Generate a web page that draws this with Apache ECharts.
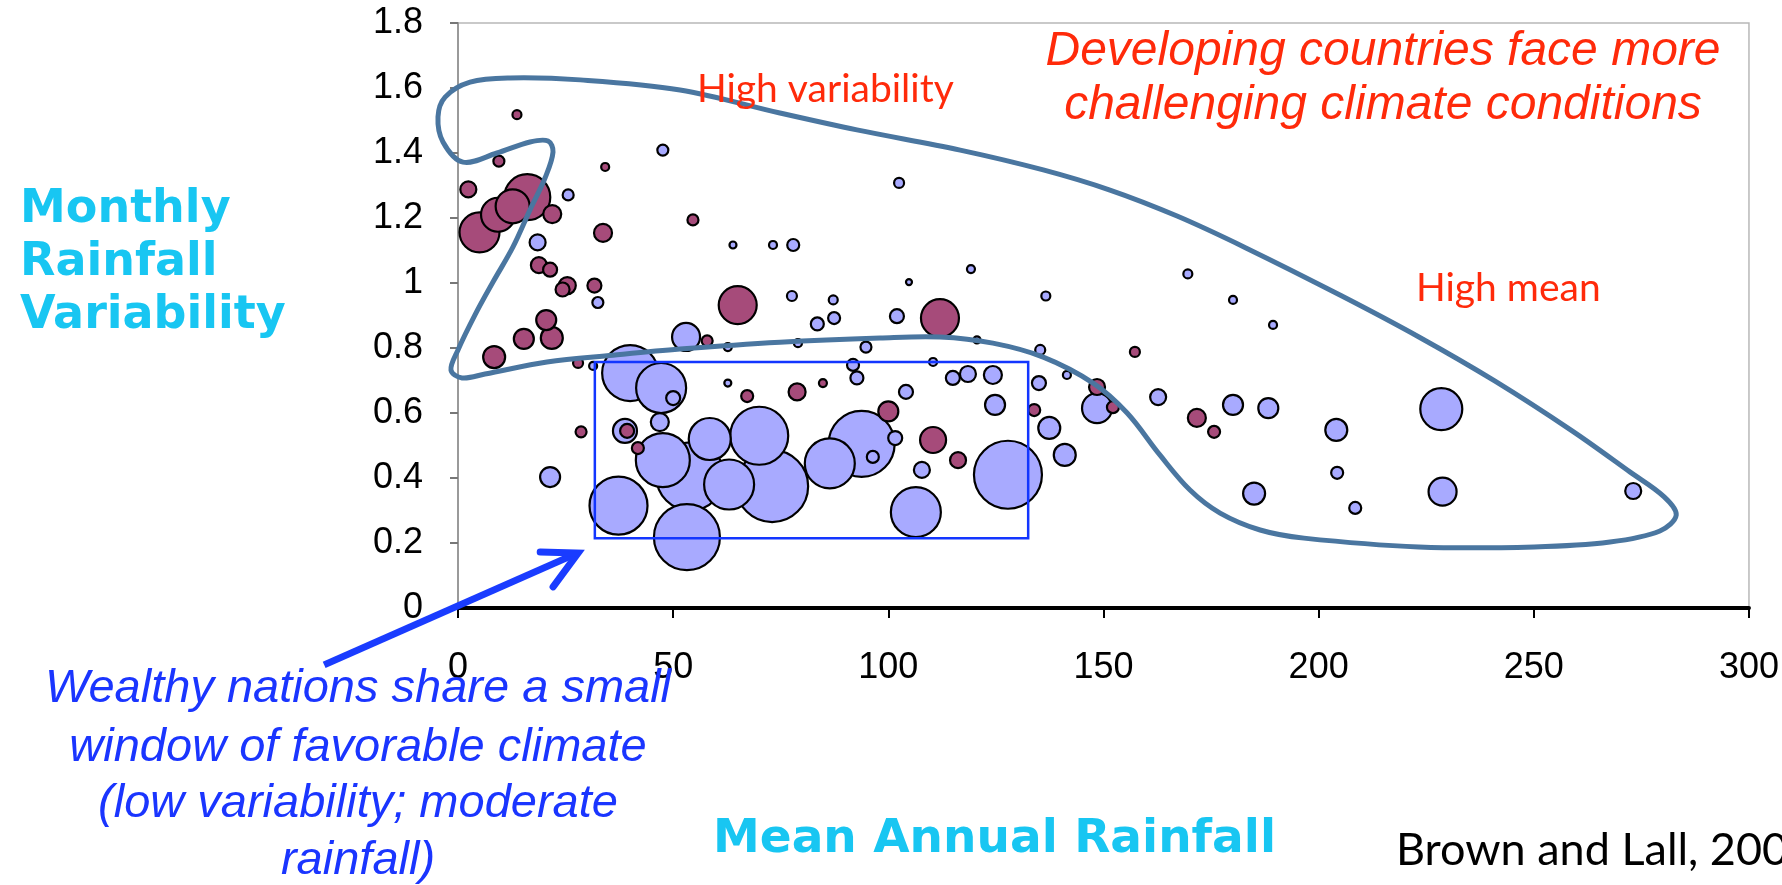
<!DOCTYPE html>
<html><head><meta charset="utf-8">
<script src="https://cdn.jsdelivr.net/npm/echarts/dist/echarts.min.js"></script>
<style>html,body{margin:0;padding:0;background:#fff}#c{width:1782px;height:885px}</style>
</head><body><div id="c"></div>
<script>
// ---- data (x = mean annual rainfall, y = monthly rainfall variability, w = bubble weight) ----
const xTicks = [0, 50, 100, 150, 200, 250, 300];
const yTicks = [0, 0.2, 0.4, 0.6, 0.8, 1, 1.2, 1.4, 1.6, 1.8];

const developingCountries = [
  [5.0,1.156,40],[9.3,1.21,34],[12.7,1.236,34],[16.1,1.264,46],[21.9,1.212,18],[2.4,1.288,16],
  [9.5,1.375,11],[13.7,1.518,9],[18.8,1.055,16],[21.4,1.041,14],[25.4,0.992,17],[24.3,0.98,14],
  [31.7,0.992,14],[33.7,1.154,18],[34.2,1.357,8],[54.6,1.194,11],[20.5,0.886,20],[21.8,0.831,22],
  [15.3,0.828,20],[8.4,0.772,22],[27.9,0.754,10],[28.6,0.542,11],[39.3,0.545,14],[41.8,0.492,12],
  [65.0,0.932,38],[57.9,0.822,11],[67.2,0.652,12],[78.8,0.665,17],[84.8,0.692,8],[112.0,0.892,38],
  [100.0,0.605,20],[110.4,0.517,26],[116.2,0.455,16],[133.9,0.609,12],[148.5,0.68,16],[152.2,0.618,12],
  [157.3,0.788,10],[171.7,0.585,18],[175.7,0.542,12]
];

const wealthyNations = [
  [18.5,1.125,16],[25.6,1.271,11],[32.5,0.94,11],[47.6,1.409,11],[63.9,1.117,7],[73.2,1.117,8],
  [77.9,1.117,12],[102.5,1.308,10],[119.2,1.043,8],[104.8,1.003,6],[77.6,0.96,10],[87.2,0.948,9],
  [87.4,0.892,12],[83.5,0.874,13],[102.0,0.898,14],[136.6,0.96,9],[169.6,1.028,9],[180.1,0.948,8],
  [120.6,0.825,7],[94.8,0.803,11],[79.0,0.815,8],[135.3,0.794,10],[110.4,0.757,8],[91.8,0.748,12],
  [92.7,0.708,13],[104.1,0.665,14],[115.0,0.708,14],[118.5,0.72,16],[124.3,0.717,18],[124.8,0.625,20],
  [141.5,0.717,8],[135.0,0.692,14],[148.5,0.615,30],[162.7,0.649,16],[180.1,0.625,20],[137.4,0.554,22],
  [141.0,0.471,22],[188.3,0.615,20],[204.1,0.548,22],[204.3,0.416,12],[228.5,0.612,42],[185.0,0.352,22],
  [228.8,0.358,28],[208.5,0.308,12],[273.1,0.36,16],[189.4,0.871,8],[21.4,0.403,20],[40.0,0.723,56],
  [47.2,0.677,50],[53.0,0.834,28],[50.0,0.646,14],[46.9,0.572,18],[38.8,0.545,24],[37.3,0.315,58],
  [53.2,0.218,66],[54.0,0.405,68],[47.6,0.455,54],[73.0,0.375,72],[70.0,0.53,58],[63.0,0.38,50],
  [58.5,0.52,42],[86.4,0.445,50],[93.8,0.505,66],[101.6,0.523,14],[96.4,0.465,12],[107.8,0.425,16],
  [106.4,0.295,50],[127.8,0.41,68],[62.7,0.803,8],[62.7,0.692,7],[31.4,0.745,8]
];

// annotation shapes, in data units
const developingEnvelope = [
  [1.16,1.372],[9.06,1.400],[16.73,1.434],[20.92,1.437],[22.08,1.403],[20.22,1.323],[16.73,1.225],
  [12.78,1.111],[8.13,1.003],[3.95,0.902],[0.0,0.794],[-1.63,0.732],[0.93,0.708],[6.27,0.720],
  [20.68,0.757],[36.02,0.778],[51.59,0.797],[74.83,0.818],[98.07,0.831],[112.0,0.834],[124.3,0.815],
  [136.0,0.772],[147.6,0.692],[155.5,0.600],[163.1,0.471],[170.1,0.363],[177.1,0.292],[186.4,0.240],
  [196.6,0.215],[223.3,0.188],[250.1,0.188],[267.7,0.203],[279.3,0.237],[283.1,0.286],[280.3,0.342],
  [272.4,0.418],[258.9,0.545],[241.0,0.698],[223.3,0.834],[205.4,0.960],[183.1,1.108],[167.1,1.206],
  [151.5,1.286],[136.0,1.348],[116.7,1.409],[92.7,1.471],[74.8,1.523],[51.6,1.594],[28.4,1.625],
  [12.1,1.631],[2.8,1.618],[-3.0,1.572],[-4.65,1.511],[-3.49,1.434]
];
const favorableWindow = [[31.8,0.215],[132.5,0.757]];
const arrowShaft = [[-31.1,-0.175],[27.6,0.168]];
const arrowHead = [[19.1,0.172],[27.9,0.169],[22.1,0.065]];

const bubbleScale = 1;
const bySizeDesc = a => a.slice().sort((p,q)=>q[2]-p[2]);

const chart = echarts.init(document.getElementById('c'));
const labelFont = 'Liberation Sans, Arial, sans-serif';

chart.setOption({
  animation: false,
  backgroundColor: '#fff',
  grid: {left: 458, right: 33, top: 23, bottom: 277, show: true, borderColor: '#b8b8b8', borderWidth: 1.5},
  xAxis: {
    type: 'value', min: xTicks[0], max: xTicks[xTicks.length-1], interval: xTicks[1]-xTicks[0],
    axisLine: {show: true, lineStyle: {color: '#000', width: 4}},
    axisTick: {show: true, length: 10, lineStyle: {color: '#000', width: 2}},
    axisLabel: {fontSize: 36, fontFamily: labelFont, color: '#000', margin: 42},
    splitLine: {show: false}
  },
  yAxis: {
    type: 'value', min: yTicks[0], max: yTicks[yTicks.length-1], interval: 0.2,
    axisLine: {show: true, lineStyle: {color: '#9a9a9a', width: 2}},
    axisTick: {show: true, length: 8, lineStyle: {color: '#777', width: 2}},
    axisLabel: {fontSize: 36, fontFamily: labelFont, color: '#000', margin: 35},
    splitLine: {show: false}
  },
  series: [
    {
      name: 'Wealthy', type: 'scatter', z: 2,
      data: bySizeDesc(wealthyNations),
      symbol: 'circle', symbolSize: v => v[2]*bubbleScale,
      itemStyle: {color: '#A8AAFF', borderColor: '#000', borderWidth: 2.2, opacity: 1}
    },
    {
      name: 'Developing', type: 'scatter', z: 3,
      data: bySizeDesc(developingCountries),
      symbol: 'circle', symbolSize: v => v[2]*bubbleScale,
      itemStyle: {color: '#A64B7A', borderColor: '#000', borderWidth: 2.2, opacity: 1}
    },
    {
      type: 'custom', z: 6, silent: true, clip: false, data: [[0,0]],
      renderItem: (params, api) => ({
        type: 'polygon',
        shape: {points: developingEnvelope.map(p => api.coord(p)), smooth: 0.35},
        style: {fill: 'none', stroke: '#4A76A0', lineWidth: 5}
      })
    },
    {
      type: 'custom', z: 7, silent: true, clip: false, data: [[0,0]],
      renderItem: (params, api) => {
        const a = api.coord(favorableWindow[0]), b = api.coord(favorableWindow[1]);
        return {type: 'rect', shape: {x: a[0], y: b[1], width: b[0]-a[0], height: a[1]-b[1]},
          style: {fill: 'none', stroke: '#1336FF', lineWidth: 2.5}};
      }
    },
    {
      type: 'custom', z: 8, silent: true, clip: false, data: [[0,0]],
      renderItem: (params, api) => ({
        type: 'group', children: [
          {type: 'polyline', shape: {points: arrowShaft.map(p => api.coord(p))},
           style: {stroke: '#1A3CFF', lineWidth: 7, lineCap: 'butt', fill: 'none'}},
          {type: 'polyline', shape: {points: arrowHead.map(p => api.coord(p))},
           style: {stroke: '#1A3CFF', lineWidth: 7, lineCap: 'round', lineJoin: 'miter', fill: 'none'}}
        ]
      })
    }
  ],
  graphic: [
    {type:'text', z:10, style:{x:20, y:210, text:'Monthly', font:'bold 46px "DejaVu Sans"', fill:'#18C6F2', textVerticalAlign:'middle'}},
    {type:'text', z:10, style:{x:20, y:263, text:'Rainfall', font:'bold 46px "DejaVu Sans"', fill:'#18C6F2', textVerticalAlign:'middle'}},
    {type:'text', z:10, style:{x:20, y:316, text:'Variability', font:'bold 46px "DejaVu Sans"', fill:'#18C6F2', textVerticalAlign:'middle'}},
    {type:'text', z:10, style:{x:713, y:840, text:'Mean Annual Rainfall', font:'bold 47px "DejaVu Sans"', fill:'#18C6F2', textVerticalAlign:'middle'}},
    {type:'text', z:10, style:{x:1396, y:850, text:'Brown and Lall, 2008', font:'45px Lato', fill:'#000', textVerticalAlign:'middle'}},
    {type:'text', z:10, style:{x:1383, y:52, text:'Developing countries face more', font:'italic 48px "Liberation Sans"', fill:'#FF2A0A', textAlign:'center', textVerticalAlign:'middle'}},
    {type:'text', z:10, style:{x:1383, y:106, text:'challenging climate conditions', font:'italic 48px "Liberation Sans"', fill:'#FF2A0A', textAlign:'center', textVerticalAlign:'middle'}},
    {type:'text', z:10, style:{x:697, y:89, text:'High variability', font:'39px Lato', fill:'#FF2A0A', textVerticalAlign:'middle'}},
    {type:'text', z:10, style:{x:1416, y:288, text:'High mean', font:'39px Lato', fill:'#FF2A0A', textVerticalAlign:'middle'}},
    {type:'text', z:10, style:{x:358, y:689, text:'Wealthy nations share a small', font:'italic 47px "Liberation Sans"', fill:'#1A35FF', textAlign:'center', textVerticalAlign:'middle'}},
    {type:'text', z:10, style:{x:358, y:748, text:'window of favorable climate', font:'italic 47px "Liberation Sans"', fill:'#1A35FF', textAlign:'center', textVerticalAlign:'middle'}},
    {type:'text', z:10, style:{x:358, y:804, text:'(low variability; moderate', font:'italic 47px "Liberation Sans"', fill:'#1A35FF', textAlign:'center', textVerticalAlign:'middle'}},
    {type:'text', z:10, style:{x:358, y:861, text:'rainfall)', font:'italic 47px "Liberation Sans"', fill:'#1A35FF', textAlign:'center', textVerticalAlign:'middle'}}
  ]
});
</script></body></html>
